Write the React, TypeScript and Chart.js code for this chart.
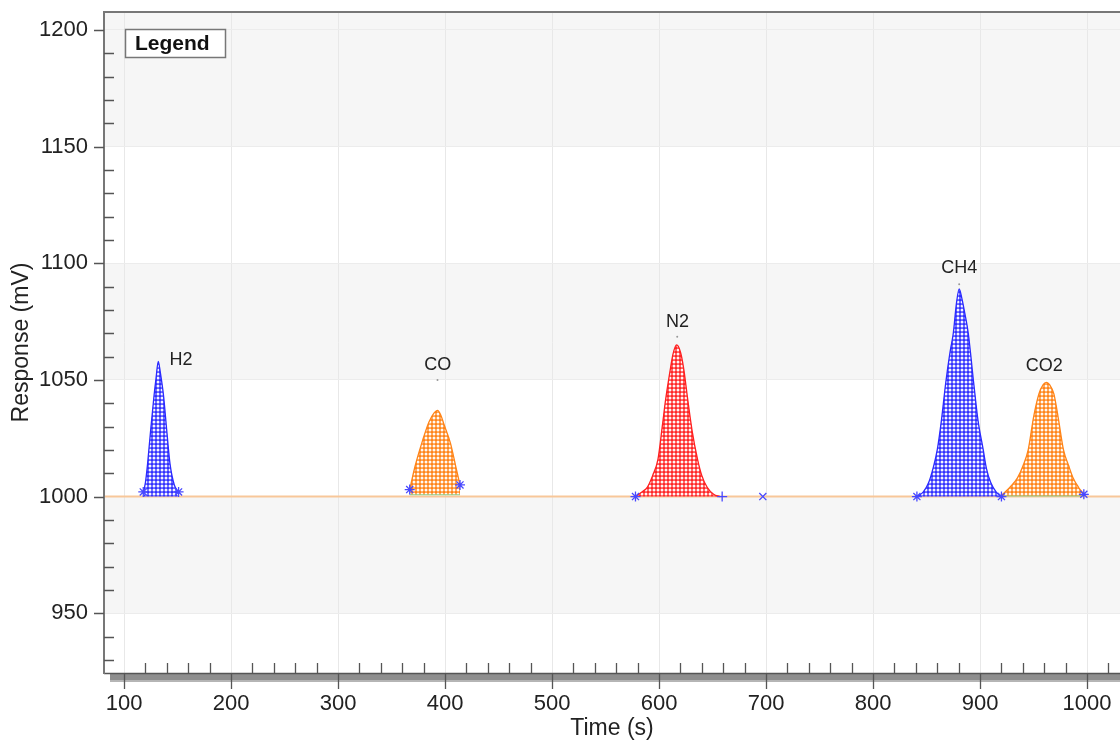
import React, { useEffect, useRef } from 'react';
import { Chart, registerables } from 'chart.js';

Chart.register(...registerables);

// ---- axis ranges ----
const X_MIN = 81.3;
const X_MAX = 1030.8;
const Y_MIN = 924.4;
const Y_MAX = 1207.7;

// ---- peak traces (Time s, Response mV) ----
const h2Time = [118, 120, 122, 125, 128, 130, 132, 134, 137, 140, 143, 147, 151];
const h2Resp = [1002, 1006, 1014, 1029, 1043, 1051, 1058, 1053, 1043, 1028, 1014, 1005, 1002];

const coTime = [367, 372, 379, 385, 390, 393, 396, 399, 405, 410, 414];
const coResp = [1003, 1013, 1024, 1032, 1036, 1037, 1035, 1031, 1023, 1013, 1005];

const n2Time = [578, 584, 589, 594, 599, 603, 606, 610, 613, 616.5, 620, 623, 627, 631, 636, 640, 645, 651, 657];
const n2Resp = [1000, 1002, 1004, 1009, 1016, 1030, 1041, 1053, 1061, 1065, 1062, 1055, 1041, 1028, 1016, 1009, 1004, 1001, 1000];

const ch4Time = [841, 847, 852, 856, 860, 864, 868, 872, 875, 878, 880.5, 883, 886, 889, 894, 898, 903, 906, 910, 915, 920];
const ch4Resp = [1000, 1002, 1006, 1012, 1020, 1033, 1049, 1062, 1070, 1083, 1089, 1085, 1078, 1070, 1049, 1033, 1020, 1012, 1006, 1002, 1000];

const co2Time = [920, 928, 935, 940, 945, 950, 955, 959, 962, 965, 969, 973, 978, 983, 987, 992, 997];
const co2Resp = [1000.5, 1004, 1008, 1013, 1020, 1034, 1044, 1048, 1049, 1048, 1044, 1034, 1020, 1013, 1008, 1004, 1001];

// ---- baselines ----
const mainBaseTime = [80, 1040];
const mainBaseResp = [1000, 1000];
const coBaseTime = [367, 414];
const coBaseResp = [1001, 1001];
const co2BaseTime = [920, 997];
const co2BaseResp = [1000.5, 1000.5];

// ---- integration markers ----
const starTime = [118, 151, 367, 414, 578, 841, 920, 997];
const starResp = [1002, 1002, 1003, 1005, 1000, 1000, 1000, 1001];
const plusTime = [659];
const plusResp = [1000];
const crossTime = [697];
const crossResp = [1000];

// ---- peak labels ----
const peakNames = ['H2', 'CO', 'N2', 'CH4', 'CO2'];
const labelTime = [153.2, 393.2, 617.2, 880.5, 959.9];
const labelResp = [1058.6, 1056.5, 1074.9, 1098, 1056];
const apexTime = [393, 617, 880.5];
const apexResp = [1050, 1068.5, 1091];

// ---- ticks ----
const xMinorStep = 20;
const xMajorStep = 100;
const yMinorStep = 10;
const yMajorStep = 50;

const zip = (xs: number[], ys: number[]) => xs.map((x, i) => ({ x, y: ys[i] }));

const makePattern = (color: string): CanvasPattern | string => {
  const c = document.createElement('canvas');
  c.width = 4;
  c.height = 4;
  const g = c.getContext('2d');
  if (!g) return color;
  g.fillStyle = color;
  g.fillRect(0, 0, 4, 4);
  g.fillStyle = 'rgba(255,255,255,0.95)';
  g.beginPath();
  g.arc(2, 2, 1.5, 0, Math.PI * 2);
  g.fill();
  return g.createPattern(c, 'repeat') || color;
};

const FONT = '"Liberation Sans", Arial, Helvetica, sans-serif';

const decorPlugin = {
  id: 'decor',
  beforeDraw(chart: any) {
    const { ctx, chartArea: a, scales } = chart;
    const y = scales.y;
    ctx.save();
    ctx.beginPath();
    ctx.rect(a.left, a.top, a.right - a.left, a.bottom - a.top);
    ctx.clip();
    const start = Math.floor(Y_MIN / yMajorStep) * yMajorStep;
    for (let v = start; v < Y_MAX + yMajorStep; v += yMajorStep) {
      const k = Math.round(v / yMajorStep);
      if (k % 2 === 1 || v >= 1150) {
        const top = y.getPixelForValue(Math.min(v + yMajorStep, Y_MAX + 20));
        const bot = y.getPixelForValue(v);
        ctx.fillStyle = '#f6f6f6';
        ctx.fillRect(a.left, top, a.right - a.left, bot - top);
      }
    }
    ctx.restore();
  },
  afterDraw(chart: any) {
    const { ctx, chartArea: a, scales } = chart;
    const xs = scales.x;
    const ys = scales.y;
    ctx.save();

    // peak labels
    ctx.fillStyle = '#222';
    ctx.font = `18px ${FONT}`;
    ctx.textAlign = 'center';
    ctx.textBaseline = 'middle';
    peakNames.forEach((n, i) => {
      ctx.fillText(n, xs.getPixelForValue(labelTime[i]), ys.getPixelForValue(labelResp[i]));
    });

    // x-axis 3D band
    ctx.fillStyle = '#8e8e8e';
    ctx.fillRect(a.left + 6, a.bottom + 1, a.right - a.left, 8);
    ctx.fillStyle = '#b5b5b5';
    ctx.fillRect(a.left + 6, a.bottom + 7, a.right - a.left, 2);
    ctx.strokeStyle = '#555';
    ctx.lineWidth = 1.5;
    ctx.beginPath();
    ctx.moveTo(a.left, a.bottom + 0.5);
    ctx.lineTo(a.right, a.bottom + 0.5);
    ctx.stroke();

    // y axis line and top frame
    ctx.strokeStyle = '#777';
    ctx.lineWidth = 2;
    ctx.beginPath();
    ctx.moveTo(a.right, a.top);
    ctx.lineTo(a.left, a.top);
    ctx.lineTo(a.left, a.bottom + 1);
    ctx.stroke();

    // ticks
    ctx.strokeStyle = '#555';
    ctx.lineWidth = 1.3;
    ctx.beginPath();
    for (let v = Math.ceil(X_MIN / xMinorStep) * xMinorStep; v <= X_MAX; v += xMinorStep) {
      const px = Math.round(xs.getPixelForValue(v)) + 0.5;
      if (v % xMajorStep === 0) {
        ctx.moveTo(px, a.bottom);
        ctx.lineTo(px, a.bottom + 16);
      } else {
        ctx.moveTo(px, a.bottom);
        ctx.lineTo(px, a.bottom - 10);
      }
    }
    for (let v = Math.ceil(Y_MIN / yMinorStep) * yMinorStep; v <= Y_MAX; v += yMinorStep) {
      const py = Math.round(ys.getPixelForValue(v)) + 0.5;
      if (v % yMajorStep === 0) {
        ctx.moveTo(a.left, py);
        ctx.lineTo(a.left - 10, py);
      } else {
        ctx.moveTo(a.left, py);
        ctx.lineTo(a.left + 10, py);
      }
    }
    ctx.stroke();

    // legend box
    const lx = a.left + 21;
    const ly = a.top + 17;
    ctx.fillStyle = '#fff';
    ctx.fillRect(lx, ly, 100, 28);
    ctx.strokeStyle = '#777';
    ctx.lineWidth = 1.5;
    ctx.strokeRect(lx + 0.5, ly + 0.5, 100, 28);
    ctx.fillStyle = '#111';
    ctx.font = `bold 21px ${FONT}`;
    ctx.textAlign = 'left';
    ctx.textBaseline = 'middle';
    ctx.fillText('Legend', lx + 10, ly + 15);

    ctx.restore();
  },
};

export default function App() {
  const canvasRef = useRef<HTMLCanvasElement | null>(null);

  useEffect(() => {
    document.body.style.margin = '0';
    const canvas = canvasRef.current;
    if (!canvas) return;

    const blue = makePattern('#3030ff');
    const orange = makePattern('#ff8418');
    const red = makePattern('#ff2525');

    const peak = (label: string, t: number[], r: number[], fillPat: any, line: string, base: number) => ({
      label,
      data: zip(t, r),
      showLine: true,
      borderColor: line,
      borderWidth: 1.3,
      backgroundColor: fillPat,
      fill: { value: base },
      pointRadius: 0,
      cubicInterpolationMode: 'monotone' as const,
    });

    const chart = new Chart(canvas, {
      type: 'scatter',
      data: {
        datasets: [
          {
            label: 'apex',
            data: zip(apexTime, apexResp),
            pointRadius: 1,
            pointBackgroundColor: '#999',
            pointBorderWidth: 0,
            showLine: false,
          },
          {
            label: 'start/end',
            data: zip(starTime, starResp),
            pointStyle: 'star',
            pointRadius: 5,
            pointBorderColor: '#4848ff',
            pointBorderWidth: 1.3,
            showLine: false,
          },
          {
            label: 'plus',
            data: zip(plusTime, plusResp),
            pointStyle: 'cross',
            pointRadius: 5,
            pointBorderColor: '#4848ff',
            pointBorderWidth: 1.3,
            showLine: false,
          },
          {
            label: 'cross',
            data: zip(crossTime, crossResp),
            pointStyle: 'crossRot',
            pointRadius: 5,
            pointBorderColor: '#4848ff',
            pointBorderWidth: 1.3,
            showLine: false,
          },
          peak('H2', h2Time, h2Resp, blue, '#2a2aff', 1000),
          peak('CO', coTime, coResp, orange, '#ff8418', 1001),
          peak('N2', n2Time, n2Resp, red, '#ff2020', 1000),
          peak('CH4', ch4Time, ch4Resp, blue, '#2a2aff', 1000),
          peak('CO2', co2Time, co2Resp, orange, '#ff8418', 1000.5),
          {
            label: 'CO base',
            data: zip(coBaseTime, coBaseResp),
            showLine: true,
            borderColor: '#8ccf8c',
            borderWidth: 2,
            pointRadius: 0,
          },
          {
            label: 'CO2 base',
            data: zip(co2BaseTime, co2BaseResp),
            showLine: true,
            borderColor: '#8ccf8c',
            borderWidth: 2,
            pointRadius: 0,
          },
          {
            label: 'baseline',
            data: zip(mainBaseTime, mainBaseResp),
            showLine: true,
            borderColor: '#f8c79a',
            borderWidth: 2,
            pointRadius: 0,
          },
        ],
      },
      options: {
        animation: false,
        responsive: true,
        maintainAspectRatio: false,
        layout: { autoPadding: false, padding: { top: 12, right: 0, left: 0, bottom: 0 } },
        plugins: {
          legend: { display: false },
          tooltip: { enabled: false },
        },
        scales: {
          x: {
            type: 'linear',
            min: X_MIN,
            max: X_MAX,
            afterBuildTicks: (s: any) => {
              const t = [];
              for (let v = Math.ceil(X_MIN / xMinorStep) * xMinorStep; v <= X_MAX; v += xMinorStep) t.push({ value: v });
              s.ticks = t;
            },
            afterFit: (s: any) => {
              s.height = 69;
              s.paddingLeft = 0;
              s.paddingRight = 0;
            },
            ticks: {
              autoSkip: false,
              maxRotation: 0,
              padding: 18,
              color: '#222',
              font: { family: FONT, size: 22 },
              callback: (v: any) => (Number(v) % xMajorStep === 0 ? String(v) : ''),
            },
            grid: {
              drawTicks: false,
              color: (c: any) => (c.tick && c.tick.value % xMajorStep === 0 ? '#e8e8e8' : 'rgba(0,0,0,0)'),
              lineWidth: 1,
            },
            border: { display: false },
            title: {
              display: true,
              text: 'Time (s)',
              color: '#222',
              font: { family: FONT, size: 23 },
              padding: { top: 0, bottom: 0 },
            },
          },
          y: {
            type: 'linear',
            min: Y_MIN,
            max: Y_MAX,
            afterBuildTicks: (s: any) => {
              const t = [];
              for (let v = Math.ceil(Y_MIN / yMinorStep) * yMinorStep; v <= Y_MAX; v += yMinorStep) t.push({ value: v });
              s.ticks = t;
            },
            afterFit: (s: any) => {
              s.width = 104;
              s.paddingTop = 0;
              s.paddingBottom = 0;
            },
            ticks: {
              autoSkip: false,
              padding: 16,
              color: '#222',
              font: { family: FONT, size: 22 },
              callback: (v: any) => (Number(v) % yMajorStep === 0 ? String(v) : ''),
            },
            grid: {
              drawTicks: false,
              color: (c: any) => (c.tick && c.tick.value % yMajorStep === 0 ? '#ececec' : 'rgba(0,0,0,0)'),
              lineWidth: 1,
            },
            border: { display: false },
            title: {
              display: true,
              text: 'Response (mV)',
              color: '#222',
              font: { family: FONT, size: 23 },
              padding: { top: 8, bottom: 0 },
            },
          },
        },
      },
      plugins: [decorPlugin],
    });

    return () => chart.destroy();
  }, []);

  return (
    <div style={{ position: 'relative', width: 1120, height: 742 }}>
      <canvas ref={canvasRef} />
    </div>
  );
}
